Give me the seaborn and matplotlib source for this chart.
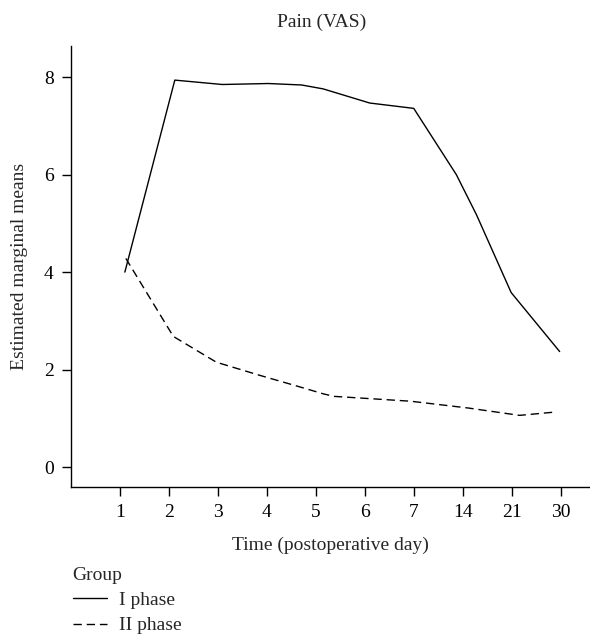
import pandas as pd
import numpy as np
import matplotlib
matplotlib.use("Agg")
import matplotlib.pyplot as plt
import seaborn as sns
from matplotlib.lines import Line2D

# Categorías del eje X (día postoperatorio)
day_labels = ["1", "2", "3", "4", "5", "6", "7", "14", "21", "30"]

# Serie I phase (posición en el eje categórico, media marginal)
pos_I = [1.10, 2.12, 3.09, 4.03, 4.71, 5.15, 6.10, 7.00, 7.87, 8.28, 8.99, 9.98]
mean_I = [4.00, 7.94, 7.85, 7.87, 7.84, 7.76, 7.47, 7.36, 6.00, 5.18, 3.58, 2.37]

# Serie II phase
pos_II = [1.12, 2.09, 2.97, 3.86, 4.62, 5.16, 5.37, 6.94, 8.12, 9.16, 9.91]
mean_II = [4.28, 2.68, 2.15, 1.88, 1.66, 1.50, 1.45, 1.35, 1.21, 1.06, 1.13]

groups = ["I phase", "II phase"]

df = pd.concat([
    pd.DataFrame({"pos": pos_I, "mean": mean_I, "Group": groups[0]}),
    pd.DataFrame({"pos": pos_II, "mean": mean_II, "Group": groups[1]}),
])

sns.set_style("ticks")
plt.rcParams["font.family"] = ["Liberation Serif", "DejaVu Serif"]

fig = plt.figure(figsize=(5.9, 6.37), dpi=100)
ax = fig.add_axes([71 / 590, 1 - 487 / 637, 1 - 71 / 590, (487 - 46) / 637])

dash_style = (6, 3.5)
sns.lineplot(data=df, x="pos", y="mean", style="Group", sort=False,
             dashes={groups[0]: "", groups[1]: dash_style},
             color="black", linewidth=1.0, estimator=None, legend=False, ax=ax)

ax.set_xlim(0, 10.6)
ax.set_ylim(-0.41, 8.64)
ax.set_xticks(np.arange(1, len(day_labels) + 1))
ax.set_xticklabels(day_labels)
ax.set_yticks([0, 2, 4, 6, 8])
ax.tick_params(axis="both", direction="out", length=6.5, width=1.0,
               colors="black", labelsize=14, pad=6)
for side in ["top", "right"]:
    ax.spines[side].set_visible(False)
for side in ["left", "bottom"]:
    ax.spines[side].set_linewidth(1.0)
    ax.spines[side].set_color("black")

ax.set_xlabel("Time (postoperative day)", fontsize=14, labelpad=11)
ax.set_ylabel("Estimated marginal means", fontsize=14, labelpad=11)

fig.text(322 / 590, 1 - 22 / 637, "Pain (VAS)", fontsize=14,
         ha="center", va="center")

handles = [Line2D([], [], color="black", linewidth=1.0),
           Line2D([], [], color="black", linewidth=1.0, dashes=dash_style)]
leg = fig.legend(handles, groups, title="Group", loc="upper left",
                 bbox_to_anchor=(59 / 590, 1 - 553 / 637), frameon=False,
                 fontsize=14, title_fontsize=14, handlelength=1.75,
                 handletextpad=0.65, labelspacing=0.4, borderpad=0.2)
leg._legend_box.align = "left"

fig.savefig("out.png", dpi=100)
